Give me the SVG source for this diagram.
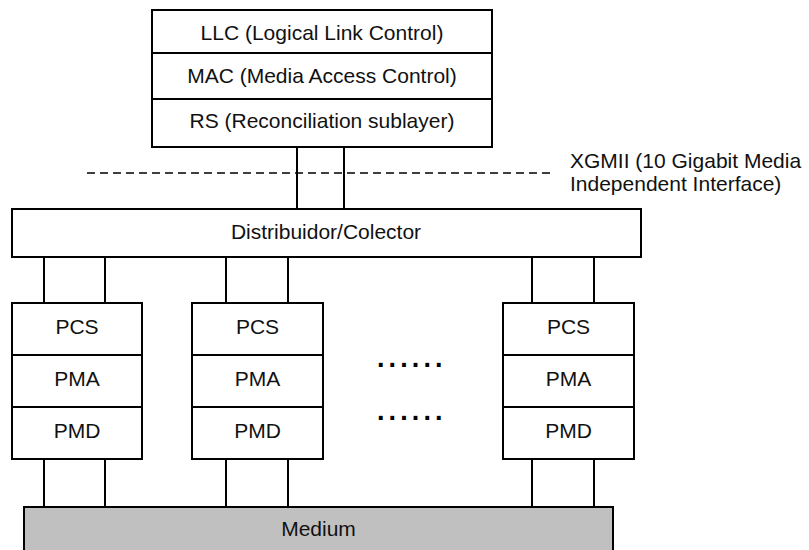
<svg xmlns="http://www.w3.org/2000/svg" width="809" height="550" viewBox="0 0 809 550">
<style>
.box{fill:#fff;stroke:#000;stroke-width:2}
.med{fill:#c0c0c0;stroke:#000;stroke-width:2}
.t{font-family:"Liberation Sans",Arial,sans-serif;font-size:21px;fill:#111;text-anchor:middle}
.tl{font-family:"Liberation Sans",Arial,sans-serif;font-size:21px;fill:#111}
.dots{font-family:"Liberation Sans",Arial,sans-serif;font-size:27px;font-weight:bold;fill:#000;letter-spacing:4.1px}
.c{stroke:#000;stroke-width:2;fill:none}
.dash{stroke:#000;stroke-width:1.6;stroke-dasharray:8 5;fill:none}
</style>
<rect width="809" height="550" fill="#fff"/>
<g id="connectors">
<line class="dash" x1="87" y1="173" x2="551" y2="173"/>
<line class="c" x1="297" y1="147" x2="297" y2="209"/>
<line class="c" x1="344" y1="147" x2="344" y2="209"/>
<line class="c" x1="44" y1="257" x2="44" y2="303"/>
<line class="c" x1="105" y1="257" x2="105" y2="303"/>
<line class="c" x1="226" y1="257" x2="226" y2="303"/>
<line class="c" x1="288" y1="257" x2="288" y2="303"/>
<line class="c" x1="532" y1="257" x2="532" y2="303"/>
<line class="c" x1="594" y1="257" x2="594" y2="303"/>
<line class="c" x1="44" y1="459" x2="44" y2="507"/>
<line class="c" x1="105" y1="459" x2="105" y2="507"/>
<line class="c" x1="226" y1="459" x2="226" y2="507"/>
<line class="c" x1="288" y1="459" x2="288" y2="507"/>
<line class="c" x1="532" y1="459" x2="532" y2="507"/>
<line class="c" x1="594" y1="459" x2="594" y2="507"/>
</g>
<g id="llc"><rect class="box" x="152" y="10" width="340" height="43"/><text class="t" x="322" y="40">LLC (Logical Link Control)</text></g>
<g id="mac"><rect class="box" x="152" y="53" width="340" height="46"/><text class="t" x="322" y="83">MAC (Media Access Control)</text></g>
<g id="rs"><rect class="box" x="152" y="99" width="340" height="48"/><text class="t" x="322" y="128">RS (Reconciliation sublayer)</text></g>
<g id="xgmii-label"><text class="tl" x="570" y="168">XGMII (10 Gigabit Media</text><text class="tl" x="570" y="191">Independent Interface)</text></g>
<g id="distribuidor"><rect class="box" x="12" y="209" width="629" height="48"/><text class="t" x="326" y="239">Distribuidor/Colector</text></g>
<g id="pcs1"><rect class="box" x="12" y="303" width="130" height="52"/><text class="t" x="77" y="334">PCS</text></g>
<g id="pma1"><rect class="box" x="12" y="355" width="130" height="52"/><text class="t" x="77" y="386">PMA</text></g>
<g id="pmd1"><rect class="box" x="12" y="407" width="130" height="52"/><text class="t" x="77" y="438">PMD</text></g>
<g id="pcs2"><rect class="box" x="192" y="303" width="131" height="52"/><text class="t" x="257.5" y="334">PCS</text></g>
<g id="pma2"><rect class="box" x="192" y="355" width="131" height="52"/><text class="t" x="257.5" y="386">PMA</text></g>
<g id="pmd2"><rect class="box" x="192" y="407" width="131" height="52"/><text class="t" x="257.5" y="438">PMD</text></g>
<g id="pcs3"><rect class="box" x="503" y="303" width="131" height="52"/><text class="t" x="568.5" y="334">PCS</text></g>
<g id="pma3"><rect class="box" x="503" y="355" width="131" height="52"/><text class="t" x="568.5" y="386">PMA</text></g>
<g id="pmd3"><rect class="box" x="503" y="407" width="131" height="52"/><text class="t" x="568.5" y="438">PMD</text></g>
<g id="ellipsis"><text class="dots" x="377" y="367">......</text><text class="dots" x="377" y="420">......</text></g>
<g id="medium"><rect class="med" x="24" y="507" width="589" height="46"/><text class="t" x="318.5" y="536">Medium</text></g>
</svg>
